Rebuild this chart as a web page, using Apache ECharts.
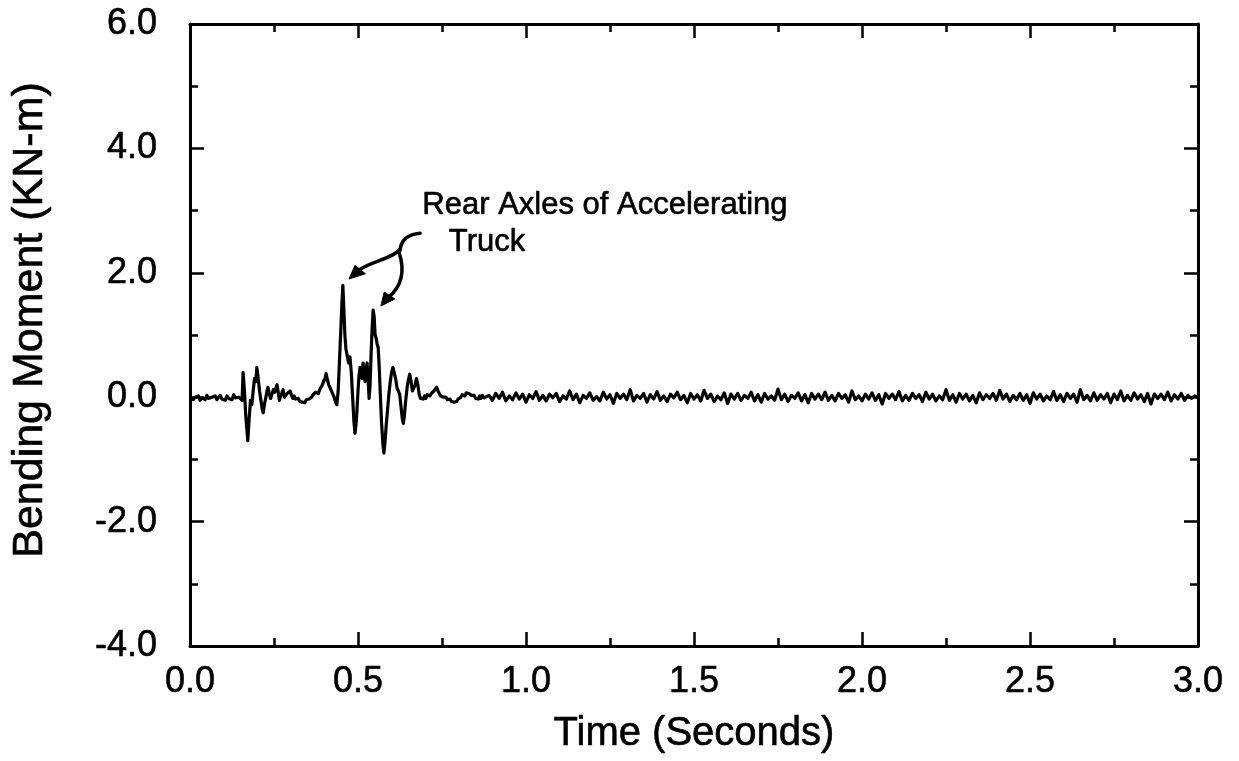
<!DOCTYPE html>
<html>
<head>
<meta charset="utf-8">
<script src="https://cdn.jsdelivr.net/npm/echarts@6/dist/echarts.min.js"></script>
<style>
html,body{margin:0;padding:0;background:#fff;}
#chart{width:1239px;height:761px;}
</style>
</head>
<body>
<div id="chart"></div>
<script>
// ---- Data ----
const xTicks = [0.0, 0.5, 1.0, 1.5, 2.0, 2.5, 3.0];
const yTicks = [-4.0, -2.0, 0.0, 2.0, 4.0, 6.0];

// quiet lead-in: t = 0.000 .. 0.145, step 0.005
const leadStart = 0.0, leadStep = 0.005;
const leadValues = [-0.02,0.01,-0.04,0.00,-0.03,0.02,-0.05,-0.01,0.01,-0.04,0.03,-0.02,-0.05,0.00,-0.03,0.02,-0.04,-0.01,0.03,-0.03,0.00,-0.05,0.02,-0.02,0.01,-0.04,0.04,-0.01,-0.03,0.00];

// truck passage (irregular sampling)
const activeTimes = [0.150,0.155,0.158,0.162,0.166,0.172,0.176,0.180,0.184,0.188,0.192,0.196,0.199,0.203,0.207,0.211,0.215,0.218,0.222,0.226,0.229,0.232,0.236,0.240,0.244,0.248,0.252,0.256,0.259,0.262,0.266,0.270,0.274,0.277,0.281,0.285,0.289,0.293,0.298,0.302,0.306,0.310,0.314,0.318,0.322,0.326,0.330,0.334,0.338,0.342,0.346,0.350,0.354,0.358,0.362,0.366,0.370,0.374,0.378,0.382,0.386,0.390,0.394,0.398,0.402,0.405,0.409,0.413,0.417,0.421,0.425,0.429,0.433,0.437,0.441,0.445,0.449,0.452,0.455,0.458,0.461,0.464,0.468,0.472,0.476,0.480,0.484,0.488,0.491,0.494,0.497,0.500,0.503,0.506,0.509,0.512,0.515,0.518,0.521,0.524,0.527,0.530,0.533,0.536,0.539,0.542,0.545,0.548,0.551,0.554,0.557,0.560,0.563,0.566,0.570,0.574,0.577,0.580,0.584,0.588,0.592,0.596,0.600,0.604,0.608,0.612,0.616,0.620,0.624,0.628,0.632,0.635,0.638,0.642,0.646,0.650,0.654,0.658,0.662,0.666,0.670,0.674,0.678,0.682,0.686,0.690,0.694,0.698,0.702,0.706,0.710,0.714,0.718,0.722,0.726,0.730,0.734,0.738,0.742,0.746,0.750,0.754,0.758,0.762,0.766,0.770,0.774,0.778,0.782,0.786,0.790,0.794,0.798,0.802,0.806,0.810,0.814,0.818,0.822,0.826,0.830,0.834,0.838,0.842,0.846,0.850,0.854,0.858,0.862,0.866,0.870,0.875,0.880];
const activeValues = [0.02,-0.05,0.40,0.10,-0.30,-0.70,-0.35,-0.05,-0.12,0.10,0.30,0.25,0.48,0.30,0.10,-0.05,-0.20,-0.25,-0.10,0.00,0.10,0.16,0.05,-0.02,0.05,0.12,0.08,0.15,0.20,0.10,-0.05,0.02,0.08,0.12,0.00,-0.02,0.06,0.05,0.10,0.03,-0.02,0.02,-0.03,-0.05,-0.02,-0.06,-0.03,-0.08,-0.05,-0.09,-0.04,-0.07,-0.03,-0.06,0.00,0.04,0.02,0.08,0.10,0.06,0.12,0.15,0.20,0.26,0.30,0.38,0.28,0.20,0.15,0.10,0.05,0.00,-0.08,-0.12,0.10,0.60,1.10,1.50,1.80,1.40,1.00,0.78,0.75,0.55,0.65,0.40,0.00,-0.40,-0.58,-0.45,-0.20,0.10,0.35,0.48,0.40,0.30,0.55,0.40,0.25,0.45,0.55,0.30,-0.02,0.20,0.70,1.10,1.40,1.30,1.00,0.95,0.85,0.80,0.50,0.10,-0.40,-0.75,-0.90,-0.75,-0.45,-0.20,0.05,0.25,0.40,0.48,0.45,0.30,0.15,0.10,0.05,-0.15,-0.35,-0.42,-0.30,-0.05,0.15,0.28,0.37,0.25,0.10,0.08,0.20,0.30,0.20,0.05,-0.02,-0.05,-0.03,0.02,-0.02,0.04,0.05,0.02,0.06,0.03,0.10,0.12,0.16,0.10,0.06,0.02,0.04,0.00,-0.03,0.00,-0.04,-0.06,-0.03,-0.07,-0.05,-0.08,-0.05,-0.07,-0.03,-0.06,0.00,0.04,0.06,0.02,0.07,0.10,0.06,0.09,0.03,0.00,0.03,-0.02,0.01,-0.03,0.02,-0.02,0.03,-0.01,0.02];

// residual vibration: t = 0.89 .. 3.00, step 0.01
const tailStart = 0.89, tailStep = 0.01;
const tailValues = [
0.03,-0.05,0.06,-0.02,0.08,-0.06,0.02,-0.04,0.07,-0.03,0.05,-0.08,0.04,-0.02,0.09,-0.05,0.03,-0.06,0.05,-0.01,
0.06,-0.07,0.02,-0.03,0.10,-0.04,0.05,-0.09,0.03,-0.02,0.07,-0.05,0.01,-0.06,0.08,-0.03,0.04,-0.10,0.06,-0.02,
0.05,-0.04,0.12,-0.06,0.03,-0.02,0.06,-0.08,0.04,-0.03,0.09,-0.05,0.02,-0.07,0.05,-0.01,0.08,-0.04,0.03,-0.09,
0.06,-0.03,0.04,-0.06,0.11,-0.02,0.05,-0.07,0.02,-0.04,0.07,-0.10,0.05,-0.03,0.06,-0.05,0.03,-0.02,0.08,-0.06,
0.04,-0.08,0.06,-0.03,0.02,-0.05,0.13,-0.04,0.05,-0.07,0.03,-0.02,0.07,-0.06,0.04,-0.09,0.06,-0.03,0.05,-0.04,
0.08,-0.05,0.03,-0.06,0.06,-0.02,0.04,-0.08,0.10,-0.04,0.02,-0.06,0.05,-0.03,0.07,-0.05,0.04,-0.11,0.06,-0.02,
0.05,-0.04,0.09,-0.06,0.03,-0.05,0.06,-0.02,0.04,-0.07,0.08,-0.03,0.05,-0.06,0.02,-0.04,0.12,-0.05,0.04,-0.08,
0.06,-0.03,0.05,-0.06,0.03,-0.09,0.07,-0.04,0.04,-0.02,0.06,-0.05,0.11,-0.03,0.05,-0.07,0.03,-0.04,0.06,-0.05,
0.04,-0.10,0.07,-0.03,0.05,-0.06,0.02,-0.04,0.09,-0.05,0.04,-0.07,0.06,-0.02,0.05,-0.08,0.12,-0.04,0.03,-0.06,
0.07,-0.05,0.04,-0.03,0.06,-0.09,0.05,-0.04,0.10,-0.06,0.03,-0.05,0.07,-0.03,0.04,-0.07,0.06,-0.11,0.05,-0.02,
0.05,-0.04,0.08,-0.06,0.04,-0.03,0.06,-0.05,0.03,-0.02,0.02,0.00];

// annotation (data coordinates)
const annoLine1 = 'Rear Axles of Accelerating';
const annoLine2 = 'Truck';
const annoLine1Pos = [1.235, 3.09];
const annoLine2Pos = [0.884, 2.48];
// arrow curves: [start, cp1, cp2, end] in data coords
const arrowCurves = [
  [[0.685,2.637],[0.649,2.621],[0.628,2.524],[0.625,2.363]],
  [[0.625,2.379],[0.604,2.219],[0.521,2.170],[0.490,1.990]],
  [[0.622,2.331],[0.640,2.042],[0.634,1.801],[0.590,1.600]]
];
const arrowHeads = [
  [[0.473,1.900],[0.491,2.120],[0.522,1.985]],
  [[0.568,1.465],[0.578,1.690],[0.610,1.580]]
];

// ---- build series ----
const seriesData = [];
leadValues.forEach((v,i)=>seriesData.push([+(leadStart+i*leadStep).toFixed(4), v]));
activeValues.forEach((v,i)=>seriesData.push([activeTimes[i], v]));
tailValues.forEach((v,i)=>seriesData.push([+(tailStart+i*tailStep).toFixed(4), v]));

const FONT = '"Liberation Sans", Arial, Helvetica, sans-serif';
const chart = echarts.init(document.getElementById('chart'), null, {renderer:'canvas'});

const axisCommon = {
  axisLine:{show:true, onZero:false, lineStyle:{color:'#000', width:3}},
  axisTick:{show:true, inside:true, length:14, lineStyle:{color:'#000', width:2.5}},
  minorTick:{show:true, splitNumber:2, length:8, lineStyle:{color:'#000', width:2.5}},
  splitLine:{show:false},
  minorSplitLine:{show:false}
};
const heavy = {textBorderColor:'#000', textBorderWidth:0.6};

chart.setOption({
  animation:false,
  backgroundColor:'#fff',
  grid:{left:190, top:24, right:41, bottom:115, containLabel:false},
  xAxis:[
    Object.assign({
      type:'value', min:xTicks[0], max:xTicks[xTicks.length-1], interval:0.5, position:'bottom',
      axisLabel:Object.assign({show:true, color:'#000', fontSize:36, fontFamily:FONT, margin:18, formatter:v=>v.toFixed(1)}, heavy),
      name:'Time (Seconds)', nameLocation:'middle', nameGap:68,
      nameTextStyle:Object.assign({color:'#000', fontSize:40, fontFamily:FONT}, heavy)
    }, axisCommon),
    Object.assign({
      type:'value', min:xTicks[0], max:xTicks[xTicks.length-1], interval:0.5, position:'top',
      axisLabel:{show:false}
    }, axisCommon)
  ],
  yAxis:[
    Object.assign({
      type:'value', min:yTicks[0], max:yTicks[yTicks.length-1], interval:2, position:'left',
      axisLabel:Object.assign({show:true, color:'#000', fontSize:36, fontFamily:FONT, margin:33, formatter:v=>v.toFixed(1)}, heavy),
      name:'Bending Moment (KN-m)', nameLocation:'middle', nameGap:138,
      nameTextStyle:Object.assign({color:'#000', fontSize:43, fontFamily:FONT, padding:[0,0,0,30]}, heavy)
    }, axisCommon),
    Object.assign({
      type:'value', min:yTicks[0], max:yTicks[yTicks.length-1], interval:2, position:'right',
      axisLabel:{show:false}
    }, axisCommon)
  ],
  series:[{
    type:'line', xAxisIndex:0, yAxisIndex:0, data:seriesData,
    showSymbol:false, symbol:'none',
    lineStyle:{color:'#000', width:3.2, join:'round'}
  }]
});

function px(p){ return chart.convertToPixel({xAxisIndex:0, yAxisIndex:0}, p); }
const graphics = [];
arrowCurves.forEach(c=>{
  const a=px(c[0]), b=px(c[1]), d=px(c[2]), e=px(c[3]);
  graphics.push({type:'bezierCurve', shape:{x1:a[0],y1:a[1],cpx1:b[0],cpy1:b[1],cpx2:d[0],cpy2:d[1],x2:e[0],y2:e[1]},
    style:{stroke:'#000', lineWidth:3.5, fill:null, lineCap:'round'}, z:10});
});
arrowHeads.forEach(h=>{
  graphics.push({type:'polygon', shape:{points:h.map(px)}, style:{fill:'#000', stroke:'#000', lineWidth:1}, z:10});
});
const t1=px(annoLine1Pos), t2=px(annoLine2Pos);
const annoStyle = {fill:'#000', font:'31px '+FONT, textAlign:'center', textVerticalAlign:'middle', stroke:'#000', lineWidth:0.6};
graphics.push({type:'text', x:t1[0], y:t1[1], style:Object.assign({text:annoLine1}, annoStyle), z:10});
graphics.push({type:'text', x:t2[0], y:t2[1], style:Object.assign({text:annoLine2}, annoStyle), z:10});
chart.setOption({graphic:graphics});
</script>
</body>
</html>
